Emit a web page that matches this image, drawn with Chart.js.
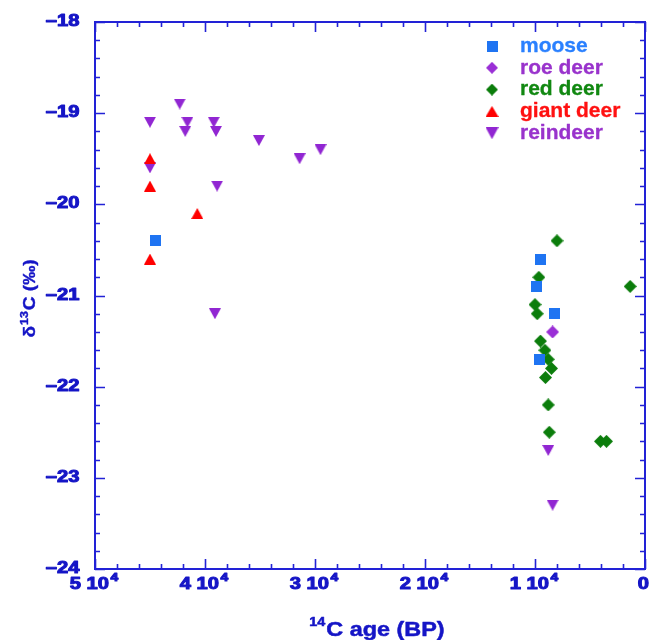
<!DOCTYPE html>
<html>
<head>
<meta charset="utf-8">
<script src="https://cdn.jsdelivr.net/npm/chart.js@4.4.1/dist/chart.umd.min.js"></script>
<style>
html, body { margin:0; padding:0; background:#fff; }
#wrap { width:649px; height:640px; }
</style>
</head>
<body>
<div id="wrap"><canvas id="c" width="649" height="640"></canvas></div>
<script>
// data (14C age BP, d13C permil)
var mooseAge   = [44500, 9500, 9850, 8200, 9600];
var mooseD13C  = [-20.4, -20.6, -20.9, -21.2, -21.7];

var roeAge     = [8400];
var roeD13C    = [-21.4];

var redAge     = [8000, 9650, 1350, 10000, 9800, 9500, 9100, 8800, 8500, 9050, 8800, 8700, 4050, 3500];
var redD13C    = [-20.4, -20.8, -20.9, -21.1, -21.2, -21.5, -21.6, -21.7, -21.8, -21.9, -22.2, -22.5, -22.6, -22.6];

var giantAge   = [45000, 45000, 40700, 45000];
var giantD13C  = [-19.5, -19.8, -20.1, -20.6];

var reinAge    = [42300, 45000, 41600, 39200, 41800, 39000, 35100, 31400, 29500, 45000, 38900, 39100, 8800, 8400];
var reinD13C   = [-18.9, -19.1, -19.1, -19.1, -19.2, -19.2, -19.3, -19.5, -19.4, -19.6, -19.8, -21.2, -22.7, -23.3];

var xMajorTicks = [50000, 40000, 30000, 20000, 10000, 0];
var xTickLabels = ['5 10', '4 10', '3 10', '2 10', '1 10', '0'];
var yMajorTicks = [-18, -19, -20, -21, -22, -23, -24];

var axisColor = '#2222d6';
var textColor = '#1515c6';
var FONT = '"Liberation Sans", Arial, sans-serif';

function pts(xs, ys) {
	var out = [];
	for (var i = 0; i < xs.length; i++) out.push({x:xs[i], y:ys[i]});
	return out;
}

// small canvases used as point styles
function marker(kind, w, h, color) {
	var c = document.createElement('canvas');
	c.width = w; c.height = h;
	var g = c.getContext('2d');
	g.fillStyle = color;
	g.beginPath();
	if (kind == 'square') {
		g.rect(0, 0, w, h);
	} else if (kind == 'diamond') {
		g.moveTo(w / 2, 0); g.lineTo(w, h / 2); g.lineTo(w / 2, h); g.lineTo(0, h / 2);
	} else if (kind == 'up') {
		g.moveTo(w / 2, 0); g.lineTo(w, h); g.lineTo(0, h);
	} else {
		g.moveTo(0, 0); g.lineTo(w, 0); g.lineTo(w / 2, h);
	}
	g.closePath();
	g.fill();
	return c;
}

var series = [
	{label:'moose',      data:pts(mooseAge, mooseD13C), color:'#1f74f2', text:'#2a80ff', kind:'square',  size:[11, 11], leg:[11, 11]},
	{label:'roe deer',   data:pts(roeAge, roeD13C),     color:'#9a2fd6', text:'#9933cc', kind:'diamond', size:[13, 13], leg:[12, 12]},
	{label:'red deer',   data:pts(redAge, redD13C),     color:'#0b7d0b', text:'#118811', kind:'diamond', size:[13, 13], leg:[12, 12]},
	{label:'giant deer', data:pts(giantAge, giantD13C), color:'#ff0000', text:'#ff1111', kind:'up',      size:[12, 11], leg:[13, 11]},
	{label:'reindeer',   data:pts(reinAge, reinD13C),   color:'#9126d2', text:'#9933cc', kind:'down',    size:[12, 11], leg:[13, 12]}
];

var datasets = series.map(function(s) {
	return {
		label:s.label,
		data:s.data,
		pointStyle:marker(s.kind, s.size[0], s.size[1], s.color),
		pointRadius:6,
		showLine:false
	};
});

// draws pieces of text one after another, stretched by sx, thickened by a thin stroke
function textRun(ctx, parts, x, y, sx, align, thick) {
	var total = 0;
	parts.forEach(function(p) {
		ctx.font = 'bold ' + p.size + 'px ' + FONT;
		p.w = ctx.measureText(p.t).width * sx + (p.gap || 0);
		total += p.w;
	});
	var x0 = align == 'center' ? x - total / 2 : (align == 'right' ? x - total : x);
	ctx.textAlign = 'left';
	ctx.textBaseline = 'alphabetic';
	parts.forEach(function(p) {
		ctx.save();
		ctx.font = 'bold ' + p.size + 'px ' + FONT;
		ctx.translate(x0, y + (p.dy || 0));
		ctx.scale(sx, 1);
		ctx.fillText(p.t, 0, 0);
		if (thick) {
			ctx.strokeStyle = ctx.fillStyle;
			ctx.lineWidth = thick;
			ctx.lineJoin = 'round';
			ctx.strokeText(p.t, 0, 0);
		}
		ctx.restore();
		x0 += p.w;
	});
}

var framePlugin = {
	id:'frame',
	afterDraw:function(chart) {
		var ctx = chart.ctx;
		var xs = chart.scales.x, ys = chart.scales.y;
		var a = chart.chartArea;
		ctx.save();
		ctx.strokeStyle = axisColor;
		ctx.lineWidth = 2;
		ctx.strokeRect(a.left, a.top, a.right - a.left, a.bottom - a.top);

		// ticks pointing inwards on all four sides
		ctx.lineWidth = 1.6;
		ctx.beginPath();
		var v, p, len;
		for (v = 0; v <= 50000; v += 2000) {
			p = Math.round(xs.getPixelForValue(v)) + 0.5;
			len = (v % 10000 == 0) ? 10 : 5;
			ctx.moveTo(p, a.bottom); ctx.lineTo(p, a.bottom - len);
			ctx.moveTo(p, a.top); ctx.lineTo(p, a.top + len);
		}
		for (var i = 0; i <= 30; i++) {
			v = -24 + i * 0.2;
			p = Math.round(ys.getPixelForValue(v)) + 0.5;
			len = (i % 5 == 0) ? 10 : 5;
			ctx.moveTo(a.left, p); ctx.lineTo(a.left + len, p);
			ctx.moveTo(a.right, p); ctx.lineTo(a.right - len, p);
		}
		ctx.stroke();

		// tick labels
		ctx.fillStyle = textColor;
		yMajorTicks.forEach(function(t) {
			textRun(ctx, [{t:'\u2013' + Math.abs(t), size:16}], a.left - 15.5, ys.getPixelForValue(t) + 4, 1.26, 'right', 1);
		});
		xMajorTicks.forEach(function(t, j) {
			var lab = xTickLabels[j];
			var parts = [{t:lab, size:16, gap:1.5}];
			if (lab != '0') parts.push({t:'4', size:11, dy:-8});
			textRun(ctx, parts, xs.getPixelForValue(t) - 1, a.bottom + 20, 1.26, 'center', 1);
		});

		// axis titles
		textRun(ctx, [{t:'14', size:12, dy:-10, gap:1}, {t:'C age (BP)', size:19.5}], (a.left + a.right) / 2 + 7, 636, 1.2, 'center', 0.5);

		ctx.save();
		ctx.translate(35, (a.top + a.bottom) / 2 + 3);
		ctx.rotate(-Math.PI / 2);
		textRun(ctx, [{t:'\u03b4', size:17, gap:1}, {t:'13', size:11, dy:-7, gap:1}, {t:'C (\u2030)', size:17}], 0, 0, 1.12, 'center', 0.4);
		ctx.restore();

		// legend inside the plot, top right
		var ly = 46;
		series.forEach(function(srs) {
			var m = marker(srs.kind, srs.leg[0], srs.leg[1], srs.color);
			ctx.drawImage(m, 492 - srs.leg[0] / 2, ly - srs.leg[1] / 2);
			ctx.fillStyle = srs.text;
			textRun(ctx, [{t:srs.label, size:21}], 520, ly + 5.8, 1, 'left', 0.3);
			ly += 21.8;
		});
		ctx.restore();
	}
};

var chart = new Chart(document.getElementById('c').getContext('2d'), {
	type:'scatter',
	data:{datasets:datasets},
	options:{
		responsive:false,
		animation:false,
		events:[],
		layout:{autoPadding:false, padding:{left:95, right:4, top:22, bottom:71}},
		plugins:{legend:{display:false}, tooltip:{enabled:false}},
		scales:{
			x:{type:'linear', min:0, max:50000, reverse:true, display:false},
			y:{type:'linear', min:-24, max:-18, display:false}
		}
	},
	plugins:[framePlugin]
});
</script>
</body>
</html>
